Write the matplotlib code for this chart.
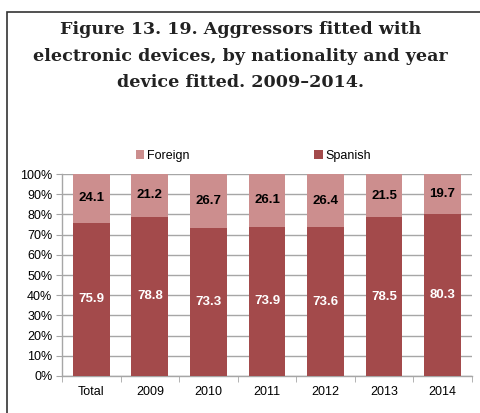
import numpy as np
import matplotlib.pyplot as plt
from matplotlib.patches import Rectangle
from matplotlib.ticker import FixedLocator, PercentFormatter

categories = ['Total', '2009', '2010', '2011', '2012', '2013', '2014']
spanish = [75.9, 78.8, 73.3, 73.9, 73.6, 78.5, 80.3]
foreign = [24.1, 21.2, 26.7, 26.1, 26.4, 21.5, 19.7]

c_spa = '#a34a4b'
c_for = '#cc8e8e'
grey = '#a6a6a6'

plt.rcParams['font.family'] = ['Liberation Sans', 'DejaVu Sans']

fig = plt.figure(figsize=(4.81, 4.13), dpi=100)
ax = fig.add_axes([0.129, 0.0896, 0.852, 0.489])

# frame around the figure box
fig.add_artist(Rectangle((7 / 481, -0.1), 1.2, (413 - 12) / 413 + 0.1,
                         transform=fig.transFigure, fill=False,
                         edgecolor='#333333', linewidth=1.2))

fig.text(0.5, 0.864, 'Figure 13. 19. Aggressors fitted with\n'
         'electronic devices, by nationality and year\n'
         'device fitted. 2009\u20132014.',
         ha='center', va='center', fontsize=12.6, fontweight='bold',
         family='DejaVu Serif', color='#222222', linespacing=1.75)

x = np.arange(len(categories))
w = 0.63
b1 = ax.bar(x, spanish, w, color=c_spa, label='Spanish', zorder=3)
b2 = ax.bar(x, foreign, w, bottom=spanish, color=c_for, label='Foreign', zorder=3)

for i in range(len(categories)):
    ax.text(x[i], spanish[i] / 2, f'{spanish[i]:.1f}', ha='center', va='center',
            color='white', fontsize=9.5, fontweight='bold', zorder=4)
    ax.text(x[i], spanish[i] + foreign[i] / 2, f'{foreign[i]:.1f}', ha='center',
            va='center', color='black', fontsize=9.5, fontweight='bold', zorder=4)

ax.set_xlim(-0.5, len(categories) - 0.5)
ax.set_ylim(0, 100)
ax.set_yticks(np.arange(0, 101, 10))
ax.yaxis.set_major_formatter(PercentFormatter(decimals=0))
ax.set_xticks(x)
ax.set_xticklabels(categories)
ax.xaxis.set_minor_locator(FixedLocator(np.arange(-0.5, len(categories), 1)))
ax.tick_params(axis='x', which='major', length=0, pad=7, labelsize=9)
ax.tick_params(axis='x', which='minor', length=4, color=grey)
ax.tick_params(axis='y', length=4, color=grey, labelsize=9, pad=3)
ax.grid(axis='y', color=grey, linewidth=1, zorder=0)
for s in ['top', 'right']:
    ax.spines[s].set_visible(False)
for s in ['left', 'bottom']:
    ax.spines[s].set_color(grey)
    ax.spines[s].set_linewidth(1)

ax.legend(handles=[b2, b1], loc='lower center', bbox_to_anchor=(0.467, 1.005),
          ncol=2, frameon=False, fontsize=9, handlelength=0.7,
          handleheight=0.7, handletextpad=0.2, columnspacing=10.0)

fig.savefig('out.png', dpi=100)
